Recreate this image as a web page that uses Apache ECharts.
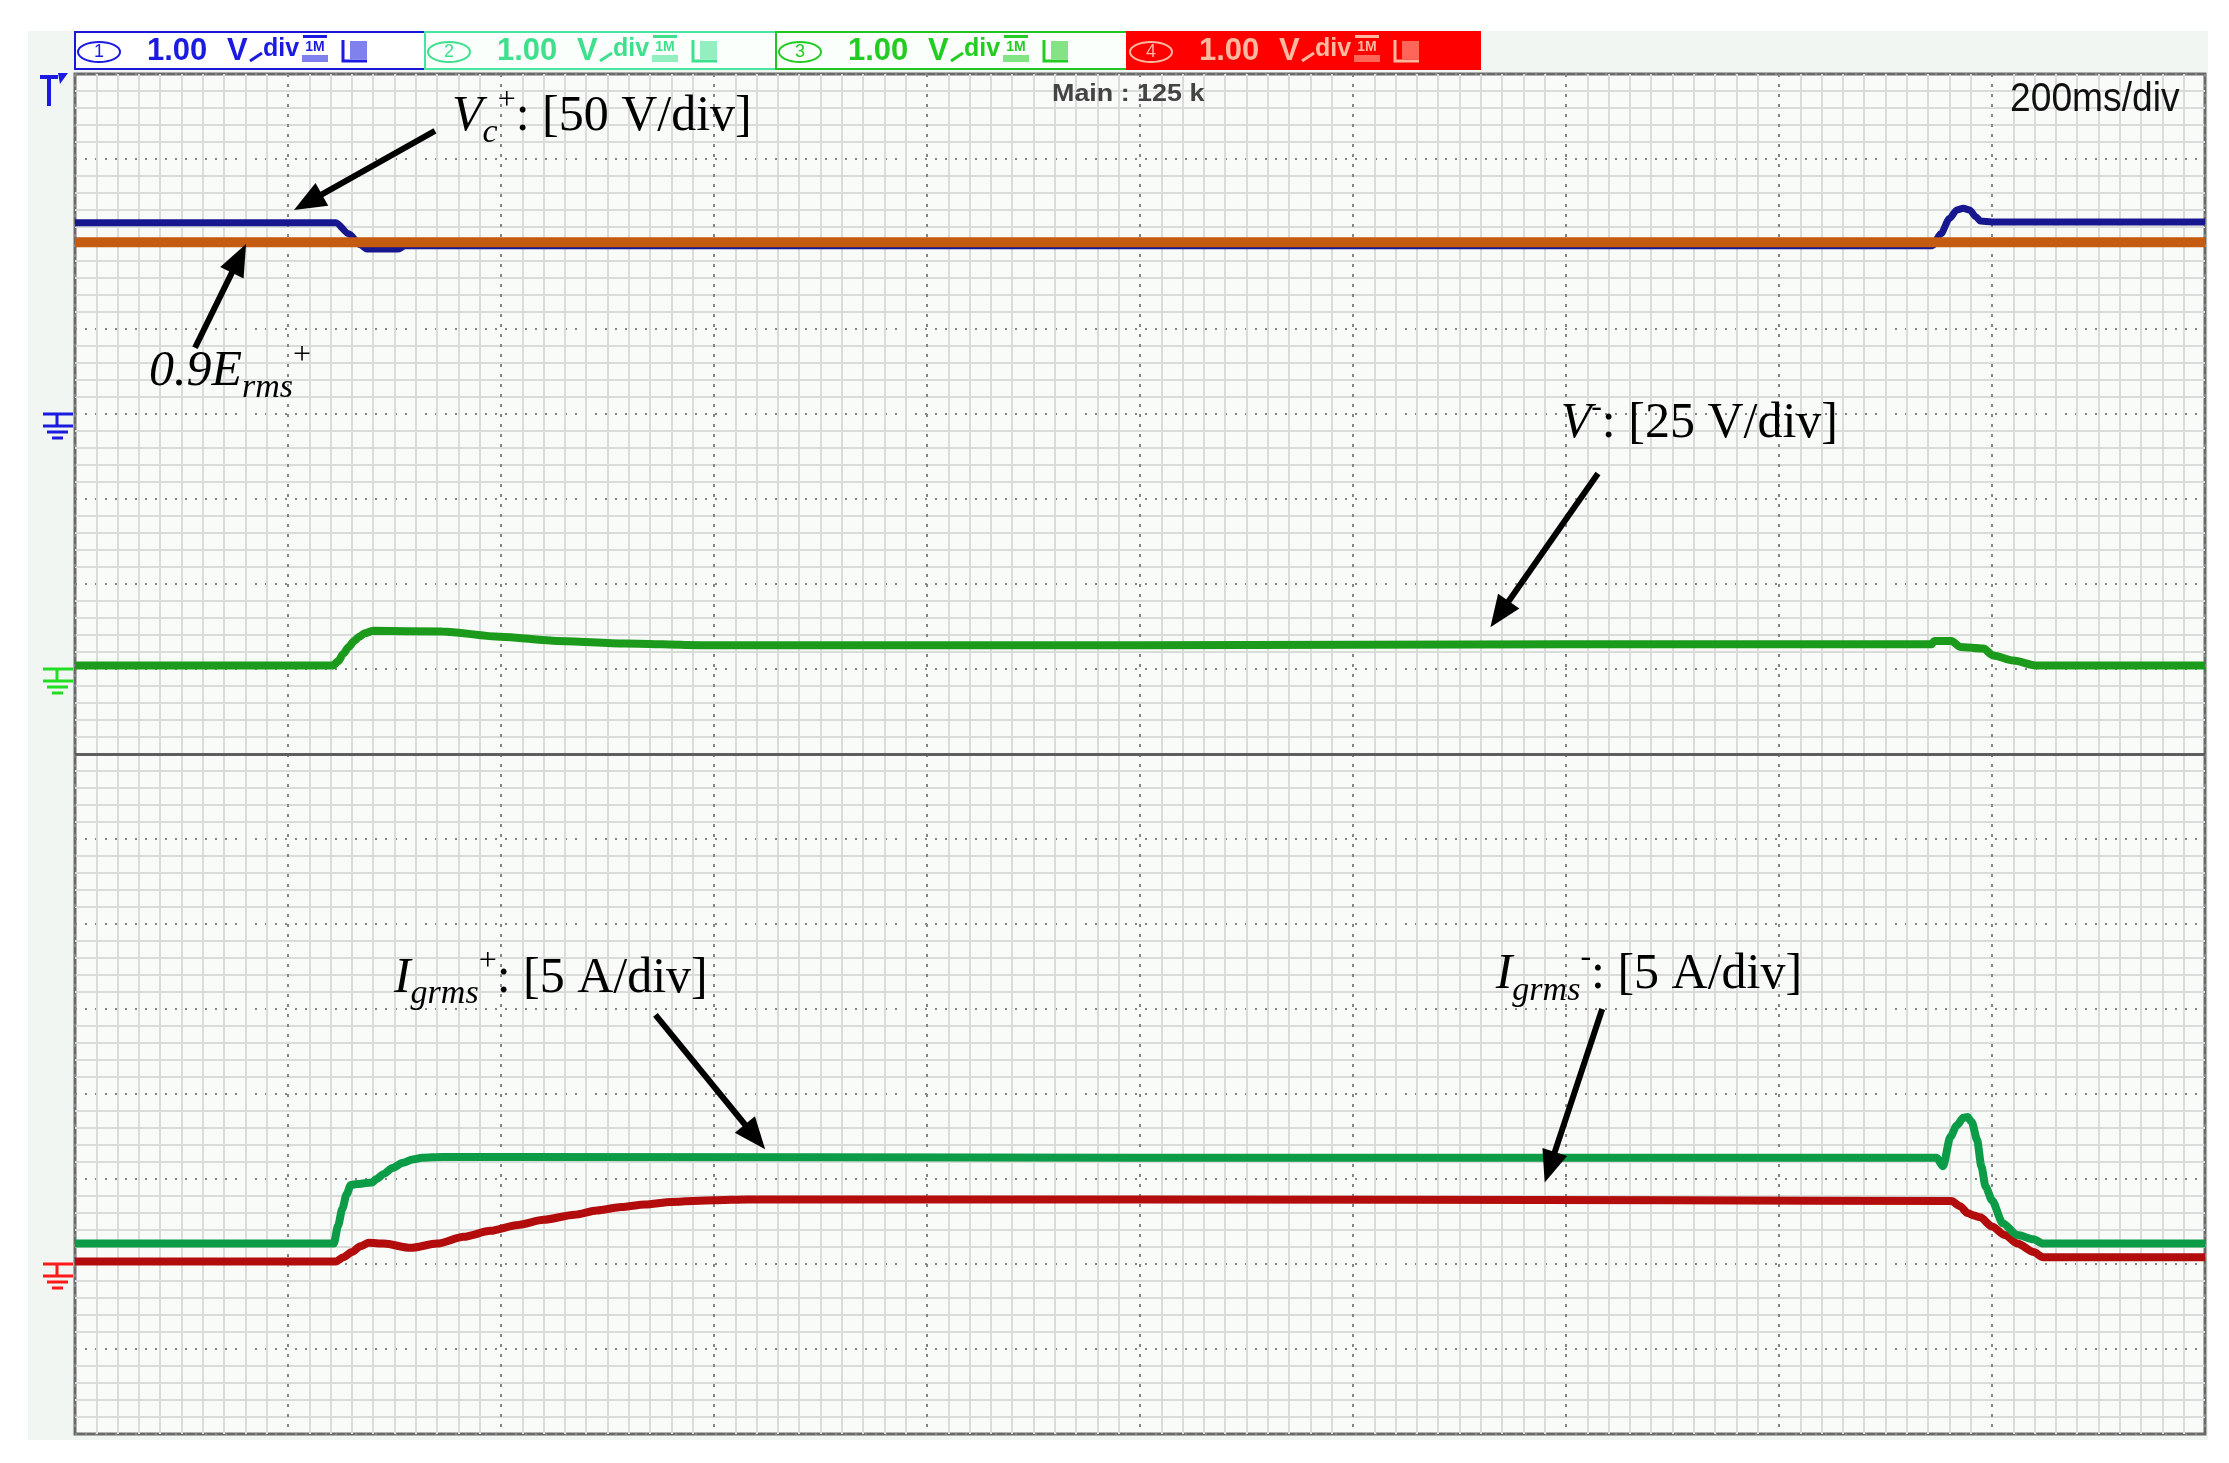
<!DOCTYPE html>
<html><head><meta charset="utf-8">
<script src="https://cdn.jsdelivr.net/npm/echarts@6/dist/echarts.min.js"></script>
<style>html,body{margin:0;padding:0;background:#fff;}#c{width:2229px;height:1463px;}</style>
</head><body><div id="c"></div>
<script>
// ---- axes (time in ms, 200 ms/div; vertical in screen divisions, 16 div) ----
const xMin = 0, xMax = 2000, xStep = 200;
const yMin = 0, yMax = 16, yStep = 1;
const splitDiv = 8;          // split-screen separator
const headerValues = ['1.00', '1.00', '1.00', '1.00'];
const headerNums = ['1', '2', '3', '4'];
const mainLabel = 'Main : 125 k';
const timebaseLabel = '200ms/div';
const groundLevels = [12, 9, 2];   // ch1 blue, V- green, current red

// ---- Vc+ (blue) ----
const vcTime = [0, 245, 257, 268, 274, 303, 310, 1744, 1752, 1760, 1767, 1773, 1779, 1785, 1789, 1800, 2000];
const vcPlus = [14.25, 14.25, 14.12, 13.99, 13.94, 13.94, 13.98, 13.98, 14.12, 14.30, 14.40, 14.42, 14.40, 14.32, 14.27, 14.26, 14.26];
// ---- 0.9 Erms+ reference (orange) ----
const ermsTime = [0, 2000];
const ermsLevel = [14.02, 14.02];
// ---- V- (green) ----
const vmTime = [0, 242, 247, 252, 257, 262, 267, 272, 280, 345, 399, 453, 516, 587, 1000, 1400, 1743, 1746, 1762, 1770, 1792, 1801, 1820, 1842, 2000];
const vMinus = [9.04, 9.04, 9.09, 9.18, 9.26, 9.33, 9.38, 9.42, 9.45, 9.44, 9.38, 9.33, 9.30, 9.28, 9.28, 9.29, 9.29, 9.33, 9.33, 9.26, 9.24, 9.16, 9.10, 9.04, 9.04];
// ---- Igrms+ (green) ----
const ipTime = [0, 243, 247, 251, 255, 259, 265, 272, 279, 283, 290, 298, 308, 317, 326, 345, 398, 1000, 1500, 1748, 1754, 1761, 1767, 1773, 1777, 1781, 1786, 1790, 1794, 1800, 1810, 1824, 1839, 1848, 2000];
const iPlus = [2.24, 2.24, 2.45, 2.65, 2.82, 2.93, 2.94, 2.95, 2.96, 3.00, 3.06, 3.13, 3.19, 3.23, 3.25, 3.26, 3.26, 3.25, 3.25, 3.25, 3.15, 3.50, 3.63, 3.72, 3.73, 3.67, 3.46, 3.15, 2.91, 2.75, 2.48, 2.34, 2.29, 2.24, 2.24];
// ---- Igrms- (red) ----
const imTime = [0, 245, 252, 260, 268, 276, 290, 315, 340, 365, 390, 416, 440, 469, 490, 513, 535, 560, 600, 631, 1000, 1500, 1762, 1770, 1777, 1783, 1789, 1800, 1812, 1824, 1839, 1848, 1864, 2000];
const iMinus = [2.03, 2.03, 2.08, 2.14, 2.21, 2.25, 2.24, 2.19, 2.24, 2.32, 2.39, 2.46, 2.52, 2.58, 2.63, 2.67, 2.70, 2.73, 2.75, 2.76, 2.76, 2.75, 2.74, 2.68, 2.60, 2.57, 2.55, 2.44, 2.34, 2.24, 2.14, 2.08, 2.08, 2.08];

// ---- annotations (anchors in data coords: [ms, div]) ----
const annLabels = [
  { text: '{i|V}{sub|c}{sup|+}{n|: [50 V/div]}', at: [354, 15.49] },
  { text: '{i|0.9E}{sub|rms}{sup|+}', at: [69.5, 12.49] },
  { text: '{i|V}{sup|-}{n|: [25 V/div]}', at: [1395, 11.88] },
  { text: '{i|I}{sub|grms}{sup|+}{n|: [5 A/div]}', at: [299.5, 5.36] },
  { text: '{i|I}{sub|grms}{sup|-}{n|: [5 A/div]}', at: [1334, 5.40] }
];
const annArrows = [
  { from: [338, 15.33], to: [205.6, 14.40] },
  { from: [112.7, 12.78], to: [160.6, 14.0] },
  { from: [1430, 11.30], to: [1329, 9.49] },
  { from: [545, 4.93], to: [648, 3.35] },
  { from: [1434, 5.0], to: [1380, 2.96] }
];

const chart = echarts.init(document.getElementById('c'), null, { renderer: 'canvas', width: 2229, height: 1463 });
const pairs = (ts, vs) => ts.map((t, i) => [t, vs[i]]);
const mk = (name, ts, vs, color, w, z) => ({
  name, type: 'line', data: pairs(ts, vs), symbol: 'none', showSymbol: false,
  smooth: 0.25, smoothMonotone: 'x', lineStyle: { color, width: w }, itemStyle: { color },
  z, silent: true, animation: false
});

const serif = '"Liberation Serif", "Times New Roman", serif';
const scope = '"Liberation Sans", Arial, sans-serif';

const seriesList = [
  mk('Vc+', vcTime, vcPlus, '#17178f', 7, 3),
  mk('0.9Erms+', ermsTime, ermsLevel, '#c55a11', 10, 4),
  mk('V-', vmTime, vMinus, '#1c9a1c', 8, 3),
  mk('Igrms-', imTime, iMinus, '#b30c0c', 8, 3),
  mk('Igrms+', ipTime, iPlus, '#0c9c48', 8, 5)
];
seriesList[0].markLine = {
  silent: true, symbol: 'none', label: { show: false },
  lineStyle: { color: '#5e5e5e', width: 3, type: 'solid' },
  data: [{ yAxis: splitDiv }]
};

chart.setOption({
  animation: false,
  backgroundColor: 'transparent',
  grid: { left: 75, top: 74, width: 2130, height: 1360, show: true, backgroundColor: '#f8fbf8', borderColor: '#6a6a6a', borderWidth: 3 },
  xAxis: {
    type: 'value', min: xMin, max: xMax, interval: xStep,
    axisLine: { show: false }, axisTick: { show: false }, axisLabel: { show: false },
    splitLine: { show: true, lineStyle: { color: '#868686', width: 2, type: [3, 7] } },
    minorTick: { show: false, splitNumber: 10 },
    minorSplitLine: { show: true, lineStyle: { color: '#d9dcd9', width: 2 } }
  },
  yAxis: {
    type: 'value', min: yMin, max: yMax, interval: yStep,
    axisLine: { show: false }, axisTick: { show: false }, axisLabel: { show: false },
    splitLine: { show: true, lineStyle: { color: '#868686', width: 2, type: [2, 8] } },
    minorTick: { show: false, splitNumber: 5 },
    minorSplitLine: { show: true, lineStyle: { color: '#d9dcd9', width: 2 } }
  },
  series: seriesList
});

const px = p => chart.convertToPixel({ xAxisIndex: 0, yAxisIndex: 0 }, p);
const els = [];
// background panel
els.push({ type: 'rect', z: -10, shape: { x: 28, y: 31, width: 2180, height: 1409 }, style: { fill: '#f2f6f2' } });

// header boxes
const boxX = [75, 425, 776, 1127];
const boxW = [350, 351, 351, 353];
const boxFill = ['#ffffff', '#fbfffc', '#fbfffb', '#ff0000'];
const boxStroke = ['#1818d8', '#48e4a4', '#22c422', '#ff0000'];
const boxText = ['#1a1ae0', '#3ee08e', '#22cc22', '#ffb8a0'];
boxX.forEach((x, i) => {
  const c = boxText[i];
  els.push({ type: 'rect', z: 20, shape: { x: x, y: 32, width: boxW[i], height: 37 }, style: { fill: boxFill[i], stroke: boxStroke[i], lineWidth: 2 } });
  els.push({ type: 'ellipse', z: 21, shape: { cx: x + 24, cy: 52, rx: 21, ry: 10 }, style: { fill: 'none', stroke: c, lineWidth: 2 } });
  els.push({ type: 'text', z: 21, x: x + 24, y: 52, style: { text: headerNums[i], fontSize: 18, fontFamily: scope, fill: c, verticalAlign: 'middle', align: 'center' } });
  els.push({ type: 'text', z: 21, x: x + 72, y: 51, style: { text: headerValues[i], fontSize: 31, fontWeight: 'bold', fontFamily: scope, fill: c, verticalAlign: 'middle', align: 'left' } });
  els.push({ type: 'text', z: 21, x: x + 152, y: 51, style: { text: 'V', fontSize: 31, fontWeight: 'bold', fontFamily: scope, fill: c, verticalAlign: 'middle', align: 'left' } });
  els.push({ type: 'line', z: 21, shape: { x1: x + 175, y1: 61, x2: x + 187, y2: 53 }, style: { stroke: c, lineWidth: 3 } });
  els.push({ type: 'text', z: 21, x: x + 188, y: 62, style: { text: 'div', fontSize: 25, fontWeight: 'bold', fontFamily: scope, fill: c, verticalAlign: 'bottom', align: 'left' } });
  els.push({ type: 'rect', z: 21, shape: { x: x + 228, y: 35, width: 24, height: 3 }, style: { fill: c } });
  els.push({ type: 'text', z: 21, x: x + 240, y: 47, style: { text: '1M', fontSize: 14, fontWeight: 'bold', fontFamily: scope, fill: c, verticalAlign: 'middle', align: 'center' } });
  els.push({ type: 'rect', z: 21, shape: { x: x + 227, y: 55, width: 26, height: 7 }, style: { fill: c, opacity: 0.55 } });
  els.push({ type: 'polyline', z: 21, shape: { points: [[x + 268, 40], [x + 268, 61], [x + 292, 61]] }, style: { stroke: c, lineWidth: 3, fill: 'none' } });
  els.push({ type: 'rect', z: 21, shape: { x: x + 275, y: 41, width: 17, height: 18 }, style: { fill: c, opacity: 0.55 } });
});

// in-screen scope texts
els.push({ type: 'text', z: 22, x: 1052, y: 94, scaleX: 1.12, style: { text: mainLabel, fontSize: 24, fontWeight: 'bold', fontFamily: scope, fill: '#444', verticalAlign: 'middle' } });
els.push({ type: 'text', z: 22, x: 2010, y: 100, scaleX: 0.93, style: { text: timebaseLabel, fontSize: 40, fontFamily: scope, fill: '#111', verticalAlign: 'middle' } });

// trigger marker
els.push({ type: 'line', z: 22, shape: { x1: 40, y1: 77, x2: 58, y2: 77 }, style: { stroke: '#1a1ae0', lineWidth: 4 } });
els.push({ type: 'line', z: 22, shape: { x1: 49, y1: 77, x2: 49, y2: 106 }, style: { stroke: '#1a1ae0', lineWidth: 4 } });
els.push({ type: 'polygon', z: 22, shape: { points: [[58, 73], [68, 73], [60, 84]] }, style: { fill: '#1a1ae0' } });

// ground markers
const gColors = ['#1a1ae0', '#22dd22', '#ff1a1a'];
groundLevels.forEach((lv, i) => {
  const y = Math.round(px([0, lv])[1]);
  const c = gColors[i];
  const L = (x1, y1, x2, y2) => els.push({ type: 'line', z: 22, shape: { x1, y1, x2, y2 }, style: { stroke: c, lineWidth: 3 } });
  L(43, y, 73, y); L(57, y, 57, y + 12); L(43, y + 12, 73, y + 12); L(47, y + 18, 68, y + 18); L(52, y + 24, 63, y + 24);
});

// annotation labels
const rich = {
  i: { fontFamily: serif, fontStyle: 'italic', fontSize: 50, lineHeight: 66, fill: '#000' },
  n: { fontFamily: serif, fontSize: 50, lineHeight: 66, fill: '#000' },
  sub: { fontFamily: serif, fontStyle: 'italic', fontSize: 34, verticalAlign: 'bottom', fill: '#000' },
  sup: { fontFamily: serif, fontSize: 32, verticalAlign: 'top', fill: '#000' }
};
annLabels.forEach(a => {
  const p = px(a.at);
  els.push({ type: 'text', z: 30, x: p[0], y: p[1], style: { text: a.text, rich, align: 'left', verticalAlign: 'middle' } });
});
// arrows
annArrows.forEach(a => {
  const p = px(a.from), q = px(a.to);
  const dx = q[0] - p[0], dy = q[1] - p[1], len = Math.hypot(dx, dy);
  const ux = dx / len, uy = dy / len, hl = 32, hw = 13;
  const bx = q[0] - ux * hl, by = q[1] - uy * hl;
  els.push({ type: 'line', z: 30, shape: { x1: p[0], y1: p[1], x2: bx + ux * 2, y2: by + uy * 2 }, style: { stroke: '#000', lineWidth: 6 } });
  els.push({ type: 'polygon', z: 30, shape: { points: [[q[0], q[1]], [bx - uy * hw, by + ux * hw], [bx + uy * hw, by - ux * hw]] }, style: { fill: '#000' } });
});

chart.setOption({ graphic: { elements: els } });
</script>
</body></html>
